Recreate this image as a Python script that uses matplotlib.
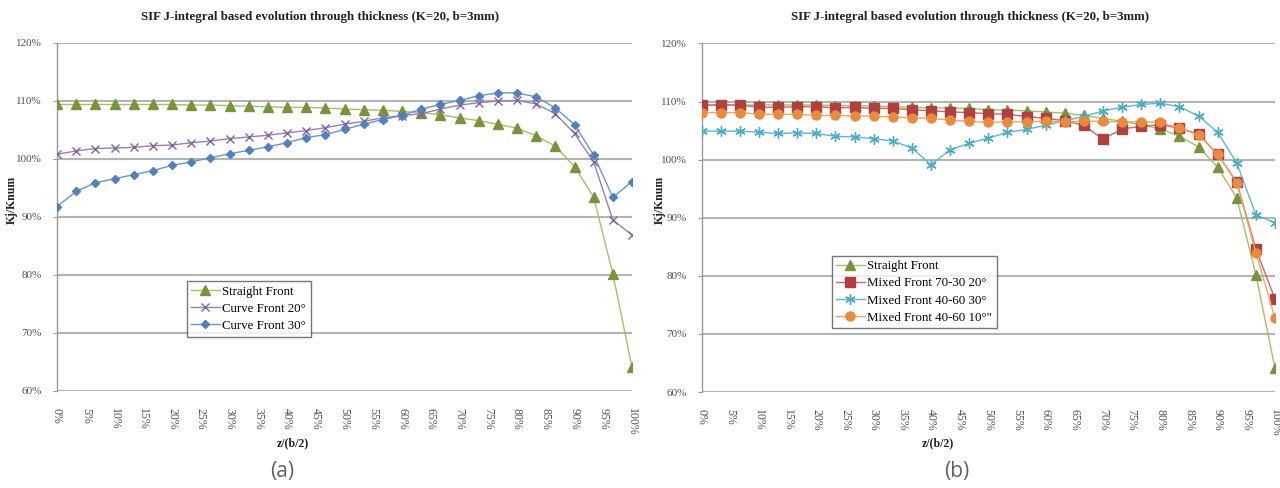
import matplotlib.pyplot as plt
import numpy as np

plt.rcParams['font.family'] = ['Liberation Serif', 'DejaVu Serif']

# 31 stations through half thickness, z/(b/2) from 0 to 1
z = np.arange(31) / 30.0

straight = [109.4, 109.4, 109.4, 109.4, 109.4, 109.4, 109.4, 109.3, 109.3, 109.2,
            109.1, 109.0, 108.9, 108.9, 108.8, 108.6, 108.5, 108.4, 108.2, 108.0,
            107.6, 107.1, 106.6, 106.0, 105.3, 104.0, 102.2, 98.7, 93.4, 80.2, 64.1]
curve20 = [100.8, 101.4, 101.8, 101.9, 102.0, 102.3, 102.4, 102.8, 103.1, 103.5,
           103.8, 104.1, 104.5, 104.9, 105.4, 106.0, 106.5, 107.1, 107.5, 107.8,
           108.6, 109.3, 109.7, 110.0, 110.1, 109.5, 107.8, 104.4, 99.5, 89.5, 86.9]
curve30 = [91.8, 94.4, 95.9, 96.6, 97.3, 98.0, 98.9, 99.5, 100.2, 100.9,
           101.5, 102.1, 102.8, 103.7, 104.2, 105.1, 106.0, 106.8, 107.5, 108.6,
           109.4, 110.1, 110.9, 111.4, 111.4, 110.7, 108.8, 105.9, 100.7, 93.4, 96.1]

mixed7030_20 = [109.4, 109.4, 109.4, 109.0, 109.0, 109.1, 109.1, 108.9, 109.0, 108.8,
                108.8, 108.6, 108.4, 108.2, 108.1, 107.9, 107.8, 107.4, 107.1, 106.7,
                105.9, 103.5, 105.3, 105.7, 106.0, 105.4, 104.4, 100.9, 96.1, 84.6, 76.0]
mixed4060_30 = [104.9, 104.9, 104.9, 104.7, 104.5, 104.6, 104.5, 104.0, 103.9, 103.6,
                103.2, 102.0, 99.1, 101.7, 102.8, 103.7, 104.7, 105.2, 105.9, 106.7,
                107.4, 108.4, 109.0, 109.5, 109.7, 109.1, 107.5, 104.7, 99.4, 90.5, 89.1]
mixed4060_10 = [108.1, 108.1, 108.1, 107.8, 107.8, 107.8, 107.6, 107.6, 107.5, 107.5,
                107.3, 107.2, 107.1, 106.8, 106.6, 106.4, 106.5, 106.5, 106.6, 106.5,
                106.6, 106.6, 106.5, 106.5, 106.4, 105.4, 104.2, 100.9, 96.0, 84.0, 72.7]

left_series = [
    ("Straight Front", straight, '#A3C163', '#77933C', '^', 6.5),
    ("Curve Front 20\u00b0", curve20, '#9580B5', '#8064A2', 'x', 5.5),
    ("Curve Front 30\u00b0", curve30, '#6A95CC', '#4F81BD', 'D', 4.5),
]
right_series = [
    ("Straight Front", straight, '#A3C163', '#77933C', '^', 6.5),
    ("Mixed Front 70-30 20\u00b0", mixed7030_20, '#C96A67', '#B0403D', 's', 6.5),
    ("Mixed Front 40-60 30\u00b0", mixed4060_30, '#5FB6CE', '#4BACC6', (6, 2, 0), 7.5),
    ("Mixed Front 40-60 10\u00b0\"", mixed4060_10, '#F5A26A', '#E98A3C', 'o', 6.5),
]

title = "SIF J-integral based evolution through thickness (K=20, b=3mm)"
xticks = np.arange(0, 101, 5) / 100.0
yticks = np.arange(60, 121, 10)

fig = plt.figure(figsize=(12.8, 4.88), dpi=100)
ax1 = fig.add_axes([57 / 1280, 97 / 488, 575 / 1280, 348 / 488])
ax2 = fig.add_axes([701.7 / 1280, 96 / 488, 573.3 / 1280, 348.6 / 488])


def style(ax, series, leg_xy):
    for name, vals, lc, mc, mk, ms in series:
        ax.plot(z, vals, color=lc, lw=1.0, marker=mk, ms=ms, mfc=mc, mec=mc,
                mew=1.0, label=name, zorder=3)
    ax.set_xlim(0, 1)
    ax.set_ylim(60, 120)
    ax.set_yticks(yticks)
    ax.set_yticklabels(["%d%%" % v for v in yticks])
    ax.set_xticks(xticks)
    ax.set_xticklabels(["%d%%" % round(v * 100) for v in xticks], rotation=-90,
                       va='top', ha='center')
    ax.grid(axis='y', color='#b4b4b4', lw=1.5, zorder=1)
    for s in ['top', 'right', 'bottom']:
        ax.spines[s].set_visible(False)
    ax.spines['left'].set_color('#9a9a9a')
    ax.spines['left'].set_linewidth(1.0)
    ax.tick_params(axis='y', length=3, color='#9a9a9a', labelsize=8,
                   labelcolor='#505050', pad=8)
    ax.tick_params(axis='x', length=0, labelsize=8.5, labelcolor='#505050', pad=12)
    leg = ax.legend(loc='upper left', bbox_to_anchor=leg_xy, fontsize=9.3,
                    frameon=True, fancybox=False, handlelength=2.2,
                    borderpad=0.35, labelspacing=0.4, handletextpad=0.2,
                    borderaxespad=0)
    leg.get_frame().set_edgecolor('#555555')
    leg.get_frame().set_linewidth(1.0)


style(ax1, left_series, (0.2256, 0.316))
style(ax2, right_series, (0.2268, 0.391))

for xc, xl, yl, tag in [(0.25, 293, 12, "(a)"), (0.758, 938, 660, "(b)")]:
    fig.text(xc, 1 - 17 / 488, title, ha='center', va='center', fontsize=9.3,
             fontweight='bold', color='#202020')
    fig.text(xl / 1280, 1 - 443 / 488, "z/(b/2)", ha='center', va='center',
             fontsize=8.5, fontweight='bold', color='#202020')
    fig.text(yl / 1280, 1 - 200 / 488, "Kj/Knum", ha='center', va='center',
             rotation=90, fontsize=8.5, fontweight='bold', color='#202020')
    fig.text((282 if tag == "(a)" else 957) / 1280, 1 - 472 / 488, tag,
             ha='center', va='center', fontsize=15, family='Open Sans',
             color='#606060')

fig.savefig('out.png', dpi=100, facecolor='white')
